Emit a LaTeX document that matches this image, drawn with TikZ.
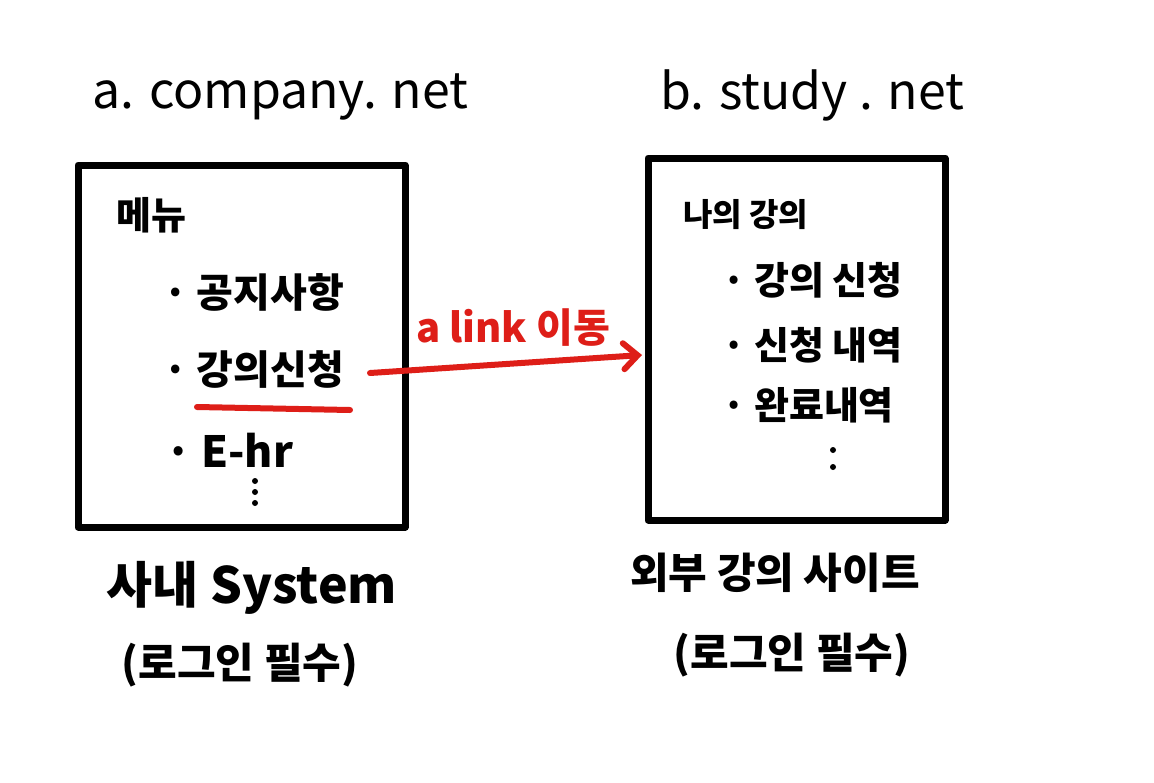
\documentclass[tikz,border=0pt]{standalone}
\usepackage{fontspec}
\setmainfont{Noto Sans CJK KR}
\usetikzlibrary{arrows.meta}
\definecolor{penred}{RGB}{222,30,24}
\begin{document}
\begin{tikzpicture}[x=1pt,y=-1pt,
  box/.style={draw=black,line width=7pt,line join=round},
  titletext/.style={font=\fontsize{50}{54}\selectfont,anchor=west,inner sep=0pt},
  item/.style={font=\bfseries\fontsize{40}{44}\selectfont,anchor=west,inner sep=0pt},
  ritem/.style={font=\bfseries\fontsize{38}{42}\selectfont,anchor=west,inner sep=0pt},
  captext/.style={font=\bfseries\fontsize{42}{46}\selectfont,anchor=center,inner sep=0pt},
  dotmark/.style={fill=black,circle,inner sep=0pt,minimum size=6pt},
  redline/.style={draw=penred,line width=6pt,line cap=round},
  redtext/.style={text=penred,font=\bfseries\fontsize{40}{44}\selectfont,inner sep=0pt}]
\useasboundingbox[fill=white] (0,0) rectangle (1154,782);
% titles
\node[titletext] (ta) at (92,97) {a. company. net};
\node[titletext] (tb) at (660,95) {b. study . net};
% boxes
\draw[box] (78,165) rectangle (405,527);
\draw[box] (648,158) rectangle (945,520);
% left contents
\node[item,font=\bfseries\fontsize{38}{42}\selectfont] (menu) at (116,215) {메뉴};
\node[item] (a1) at (163,292) {· 공지사항};
\node[item] (a2) at (163,370) {· 강의신청};
\node[item,font=\bfseries\fontsize{43}{47}\selectfont] (a3) at (165,450) {· E-hr};
\node[dotmark] (ad1) at (255,481) {};
\node[dotmark] (ad2) at (255,492) {};
\node[dotmark] (ad3) at (255,503) {};
\coordinate (ul1) at (197,407);
\coordinate (ul2) at (350,410);
\draw[redline] (ul1) -- (ul2);
% right contents
\node[ritem,font=\bfseries\fontsize{32}{36}\selectfont] (my) at (683,215) {나의 강의};
\node[ritem] (b1) at (722,280) {· 강의 신청};
\node[ritem] (b2) at (722,345) {· 신청 내역};
\node[ritem] (b3) at (722,405) {· 완료내역};
\node[dotmark] (bd1) at (833,450) {};
\node[dotmark] (bd2) at (833,467) {};
% arrow
\coordinate (as) at (370,373);
\coordinate (ae) at (642,355);
\draw[redline,-{Straight Barb[length=14pt,width=26pt,line cap=round]}] (as) -- (ae);
\node[redtext] (lbl) at (513,328) {a link 이동};
% captions
\node[captext,font=\bfseries\fontsize{50}{54}\selectfont] (ca) at (252,588) {사내 System};
\node[captext] (cb) at (240,665) {(로그인 필수)};
\node[captext] (cc) at (775,573) {외부 강의 사이트};
\node[captext] (cd) at (792,655) {(로그인 필수)};
\end{tikzpicture}
\end{document}
